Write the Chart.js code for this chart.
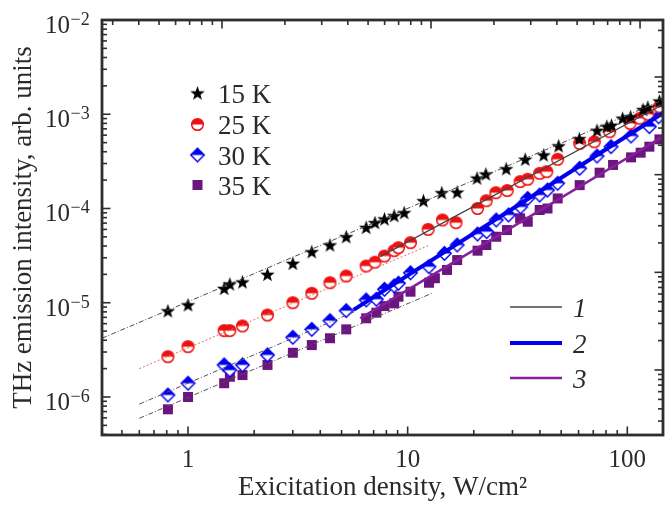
<!DOCTYPE html>
<html><head><meta charset="utf-8">
<script src="https://cdn.jsdelivr.net/npm/chart.js@4.4.1/dist/chart.umd.min.js"></script>
<style>html,body{margin:0;padding:0;background:#fff}#wrap{width:670px;height:505px;position:relative}</style>
</head><body><div id="wrap"><canvas id="c" width="670" height="505"></canvas></div>
<script>
// ---------- data ----------
const seriesLabels = ['15 K', '25 K', '30 K', '35 K'];
const fitLabels = ['1', '2', '3'];

const x15 = [0.81, 1.0, 1.46, 1.55, 1.77, 2.3, 3.0, 3.66, 4.43, 5.25, 6.47, 7.1, 7.84, 8.68, 9.64, 11.8, 14.3, 16.8, 20.7, 22.7, 28.1, 34.3, 41.6, 48.7, 60.5, 72.8, 80.7, 84.7, 95.2, 103.5, 118, 124, 140];
const y15 = [8.2e-6, 9.5e-6, 1.42e-5, 1.58e-5, 1.66e-5, 2.0e-5, 2.62e-5, 3.48e-5, 4.1e-5, 5.02e-5, 6.3e-5, 7.07e-5, 7.74e-5, 8.4e-5, 9.03e-5, 1.21e-4, 1.47e-4, 1.49e-4, 2.1e-4, 2.32e-4, 2.64e-4, 3.33e-4, 3.7e-4, 4.62e-4, 5.5e-4, 6.75e-4, 7.45e-4, 7.65e-4, 9.06e-4, 9.4e-4, 1.12e-3, 1.19e-3, 1.38e-3];

const x25 = [0.81, 1.0, 1.46, 1.55, 1.77, 2.3, 3.0, 3.66, 4.43, 5.25, 6.47, 7.1, 7.84, 8.68, 9.08, 10.3, 12.4, 14.4, 16.6, 20.8, 22.8, 25.2, 28.4, 32.5, 35.2, 39.9, 43.0, 48.2, 60.7, 70.8, 83.1, 103, 114, 124, 140];
const y25 = [2.68e-6, 3.42e-6, 5.06e-6, 5.06e-6, 5.67e-6, 7.41e-6, 1.0e-5, 1.26e-5, 1.63e-5, 1.92e-5, 2.45e-5, 2.69e-5, 3.13e-5, 3.57e-5, 3.84e-5, 4.34e-5, 6.0e-5, 7.55e-5, 7.07e-5, 1.0e-4, 1.21e-4, 1.47e-4, 1.55e-4, 1.93e-4, 2.04e-4, 2.36e-4, 2.46e-4, 3.33e-4, 4.9e-4, 5.1e-4, 6.53e-4, 8.0e-4, 9.06e-4, 1.0e-3, 1.2e-3];

const x30 = [0.81, 1.0, 1.46, 1.55, 1.77, 2.3, 3.0, 3.66, 4.43, 5.25, 6.47, 7.2, 7.84, 8.68, 9.08, 10.3, 12.5, 14.7, 16.8, 20.8, 22.9, 25.3, 28.8, 32.7, 35.2, 39.9, 43.3, 48.2, 60.7, 72.8, 84.3, 104, 126, 139];
const y30 = [1.05e-6, 1.40e-6, 2.19e-6, 1.93e-6, 2.19e-6, 2.79e-6, 4.3e-6, 5.22e-6, 6.45e-6, 8.24e-6, 1.07e-5, 1.09e-5, 1.39e-5, 1.51e-5, 1.61e-5, 2.08e-5, 2.41e-5, 3.34e-5, 4.1e-5, 5.36e-5, 5.68e-5, 7.55e-5, 8.53e-5, 1.04e-4, 1.28e-4, 1.39e-4, 1.57e-4, 1.85e-4, 2.67e-4, 3.6e-4, 4.53e-4, 5.87e-4, 7.38e-4, 9.4e-4];

const x35 = [0.81, 1.0, 1.46, 1.55, 1.77, 2.3, 3.0, 3.66, 4.43, 5.25, 6.47, 7.2, 7.84, 8.68, 9.08, 10.3, 12.5, 13.3, 15.1, 16.8, 20.8, 22.8, 25.3, 28.3, 32.5, 35.2, 39.9, 43.3, 48.2, 60.7, 74.8, 86.1, 104, 115, 126, 140];
const y35 = [7.4e-7, 1.0e-6, 1.4e-6, 1.64e-6, 1.71e-6, 2.19e-6, 2.95e-6, 3.56e-6, 4.2e-6, 5.22e-6, 6.84e-6, 7.85e-6, 9.23e-6, 9.86e-6, 1.16e-5, 1.31e-5, 1.63e-5, 1.82e-5, 2.23e-5, 2.84e-5, 3.57e-5, 4.1e-5, 5.02e-5, 5.91e-5, 7.87e-5, 7.24e-5, 9.64e-5, 1.0e-4, 1.28e-4, 1.77e-4, 2.4e-4, 2.9e-4, 3.49e-4, 3.91e-4, 4.53e-4, 5.42e-4];

// fitted power-law lines (end points)
const fit15X = [0.406, 145.4], fit15Y = [4.2e-6, 1.42e-3];
const fit25LowX = [0.6, 12.6], fit25LowY = [2.0e-6, 4.1e-5];
const fit25HighX = [7.5, 145.4], fit25HighY = [3.08e-5, 1.27e-3];
const fit30LowX = [0.6, 5.7], fit30LowY = [8.4e-7, 8.0e-6];
const fit30HighX = [5.67, 145.4], fit30HighY = [8.4e-6, 1.03e-3];
const fit35LowX = [0.6, 12.9], fit35LowY = [5.94e-7, 1.26e-5];
const fit35HighX = [6.08, 145.4], fit35HighY = [6.84e-6, 5.8e-4];

// axes
const xTickValues = [1, 10, 100];
const xTickLabels = ['1', '10', '100'];
const yTickExponents = [-6, -5, -4, -3, -2];

// ---------- styling ----------
const SERIF = '"Liberation Serif", "Times New Roman", serif';
const TXT = '#2a2a2a';
const RED = '#ee1111', BLUE = '#0000ee', PURPLE = '#6c1480', LINE3 = '#86209a';

function mk(size, draw) {
  const c = document.createElement('canvas');
  c.width = size; c.height = size;
  const g = c.getContext('2d');
  draw(g, size / 2);
  return c;
}
const starImg = mk(17, (g, c) => {
  g.fillStyle = '#000'; g.beginPath();
  for (let i = 0; i < 10; i++) {
    const r = i % 2 ? 3.1 : 7.6;
    const a = -Math.PI / 2 + i * Math.PI / 5;
    g.lineTo(c + r * Math.cos(a), c + 0.7 + r * Math.sin(a));
  }
  g.closePath(); g.fill();
});
const circImg = mk(15, (g, c) => {
  const r = 5.8;
  g.fillStyle = '#fff'; g.beginPath(); g.arc(c, c, r, 0, 2 * Math.PI); g.fill();
  g.fillStyle = RED; g.beginPath(); g.arc(c, c, r, Math.PI, 2 * Math.PI); g.closePath(); g.fill();
  g.strokeStyle = RED; g.lineWidth = 1.5; g.beginPath(); g.arc(c, c, r, 0, 2 * Math.PI); g.stroke();
});
const diaImg = mk(17, (g, c) => {
  const h = 6.8;
  g.beginPath(); g.moveTo(c - h, c); g.lineTo(c, c - h); g.lineTo(c + h, c); g.lineTo(c, c + h); g.closePath();
  g.fillStyle = '#fff'; g.fill();
  g.fillStyle = BLUE; g.beginPath(); g.moveTo(c - h, c); g.lineTo(c, c - h); g.lineTo(c + h, c); g.closePath(); g.fill();
  g.strokeStyle = BLUE; g.lineWidth = 1.4;
  g.beginPath(); g.moveTo(c - h, c); g.lineTo(c, c - h); g.lineTo(c + h, c); g.lineTo(c, c + h); g.closePath(); g.stroke();
});
const sqImg = mk(12, (g, c) => { g.fillStyle = PURPLE; g.fillRect(c - 5, c - 5, 10, 10); });
const markerImgs = [starImg, circImg, diaImg, sqImg];

const pts = (xs, ys) => xs.map((x, i) => ({ x, y: ys[i] }));
const scatterDs = (label, xs, ys, img) => ({ label, data: pts(xs, ys), pointStyle: img, pointRadius: 6, showLine: false, order: 2 });
const lineDs = (label, xs, ys, color, width, dash) => ({ label, data: pts(xs, ys), showLine: true, pointRadius: 0, borderColor: color, borderWidth: width, borderDash: dash || [], order: 1, fill: false });

const DASHDOT = [5, 2, 1, 2];
const fitStyles = [
  { color: '#444', width: 1.3 },
  { color: BLUE, width: 4 },
  { color: LINE3, width: 2.6 }
];

// ---------- plugin: frame, inner ticks, tick labels, legends ----------
function drawLogTicks(ctx, scale, side, area) {
  const lo = Math.floor(Math.log10(scale.min)), hi = Math.ceil(Math.log10(scale.max));
  for (let e = lo; e <= hi; e++) {
    for (let m = 1; m <= 9; m++) {
      const v = m * Math.pow(10, e);
      if (v < scale.min * 1.001 || v > scale.max * 0.999) continue;
      const p = scale.getPixelForValue(v);
      const len = m === 1 ? 8.5 : 5;
      ctx.beginPath();
      if (side === 'bottom') { ctx.moveTo(p, area.bottom); ctx.lineTo(p, area.bottom - len); }
      if (side === 'top') { ctx.moveTo(p, area.top); ctx.lineTo(p, area.top + len); }
      if (side === 'left') { ctx.moveTo(area.left, p); ctx.lineTo(area.left + len, p); }
      if (side === 'right') { ctx.moveTo(area.right, p); ctx.lineTo(area.right - len, p); }
      ctx.stroke();
    }
  }
}

const decorPlugin = {
  id: 'decor',
  afterDatasetsDraw(chart) {
    const { ctx, chartArea: a, scales } = chart;
    ctx.save();
    ctx.strokeStyle = '#2e2e2e';
    ctx.lineWidth = 1.6;
    drawLogTicks(ctx, scales.x, 'bottom', a);
    drawLogTicks(ctx, scales.x2, 'top', a);
    drawLogTicks(ctx, scales.y, 'left', a);
    drawLogTicks(ctx, scales.y2, 'right', a);
    ctx.lineWidth = 2.8;
    ctx.strokeRect(a.left, a.top, a.right - a.left, a.bottom - a.top);

    ctx.fillStyle = TXT;
    // x tick labels
    ctx.font = '25px ' + SERIF;
    ctx.textAlign = 'center'; ctx.textBaseline = 'alphabetic';
    xTickValues.forEach((v, i) => {
      ctx.fillText(xTickLabels[i], scales.x.getPixelForValue(v), a.bottom + 32);
    });
    // y tick labels: 10^n
    yTickExponents.forEach(e => {
      const py = scales.y.getPixelForValue(Math.pow(10, e));
      ctx.font = '25px ' + SERIF;
      ctx.textAlign = 'right';
      ctx.fillText('10', 70, py + 13);
      ctx.font = '18px ' + SERIF;
      ctx.textAlign = 'left';
      ctx.fillText('\u2212' + Math.abs(e), 70.5, py + 5);
    });

    // legend of temperatures
    const rows = [93, 124.5, 155, 185];
    ctx.font = '27px ' + SERIF;
    ctx.textAlign = 'left';
    seriesLabels.forEach((lab, i) => {
      const img = markerImgs[i];
      ctx.drawImage(img, 197.5 - img.width / 2, rows[i] - img.height / 2);
      ctx.fillText(lab, 218, rows[i] + 9.5);
    });

    // legend of fit lines
    const rows2 = [307, 343, 378];
    ctx.font = 'italic 27px ' + SERIF;
    fitLabels.forEach((lab, i) => {
      const st = fitStyles[i];
      ctx.strokeStyle = st.color; ctx.lineWidth = st.width;
      ctx.beginPath(); ctx.moveTo(510, rows2[i]); ctx.lineTo(562, rows2[i]); ctx.stroke();
      ctx.fillStyle = TXT;
      ctx.fillText(lab, 573, rows2[i] + 9.5);
    });
    ctx.restore();
  }
};

new Chart(document.getElementById('c'), {
  type: 'scatter',
  data: {
    datasets: [
      scatterDs(seriesLabels[0], x15, y15, starImg),
      scatterDs(seriesLabels[1], x25, y25, circImg),
      scatterDs(seriesLabels[2], x30, y30, diaImg),
      scatterDs(seriesLabels[3], x35, y35, sqImg),
      lineDs('fit 15 K', fit15X, fit15Y, '#4a4a4a', 1, DASHDOT),
      lineDs('fit 25 K low', fit25LowX, fit25LowY, '#e86a6a', 1, [2, 2]),
      lineDs(fitLabels[0], fit25HighX, fit25HighY, fitStyles[0].color, fitStyles[0].width),
      lineDs('fit 30 K low', fit30LowX, fit30LowY, '#505060', 1, DASHDOT),
      lineDs(fitLabels[1], fit30HighX, fit30HighY, fitStyles[1].color, fitStyles[1].width),
      lineDs('fit 35 K low', fit35LowX, fit35LowY, '#505050', 1, DASHDOT),
      lineDs(fitLabels[2], fit35HighX, fit35HighY, fitStyles[2].color, fitStyles[2].width)
    ]
  },
  options: {
    responsive: false,
    animation: false,
    events: [],
    devicePixelRatio: 1,
    layout: { padding: { top: 20, right: 7, left: 0, bottom: 0 } },
    plugins: { legend: { display: false }, tooltip: { enabled: false } },
    scales: {
      x: {
        type: 'logarithmic', position: 'bottom', min: 0.4058, max: 145.4,
        grid: { display: false }, border: { display: false },
        ticks: { display: false },
        title: { display: true, text: 'Exicitation density, W/cm\u00B2', color: TXT, font: { family: SERIF, size: 27 }, padding: { top: 0, bottom: 1 } },
        afterFit: (s) => { s.height = 70; }
      },
      y: {
        type: 'logarithmic', position: 'left', min: 3.95e-7, max: 1e-2,
        grid: { display: false }, border: { display: false },
        ticks: { display: false },
        title: { display: true, text: 'THz emission intensity, arb. units', color: TXT, font: { family: SERIF, size: 27 }, padding: { top: 8, bottom: 0 } },
        afterFit: (s) => { s.width = 102; }
      },
      x2: {
        type: 'logarithmic', position: 'top', min: 0.2667, max: 128.8,
        grid: { display: false }, border: { display: false }, ticks: { display: false },
        afterFit: (s) => { s.height = 0; }
      },
      y2: {
        type: 'logarithmic', position: 'right', min: 2.16e-7, max: 3.834e-3,
        grid: { display: false }, border: { display: false }, ticks: { display: false },
        afterFit: (s) => { s.width = 0; }
      }
    }
  },
  plugins: [decorPlugin]
});
</script>
</body></html>
